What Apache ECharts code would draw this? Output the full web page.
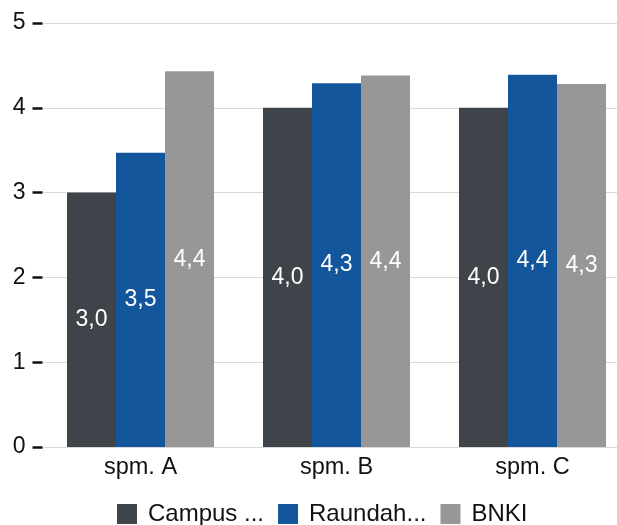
<!DOCTYPE html>
<html><head><meta charset="utf-8">
<script src="https://cdn.jsdelivr.net/npm/echarts@6/dist/echarts.min.js"></script>
<style>html,body{margin:0;padding:0;background:#fff}#c{width:617px;height:525px}</style>
</head><body><div id="c"></div>
<script>
var categories = ['spm. A', 'spm. B', 'spm. C'];
var seriesNames = ['Campus ...', 'Raundah...', 'BNKI'];
var campus = [3.0, 4.0, 4.0];
var raundah = [3.47, 4.29, 4.39];
var bnki = [4.43, 4.38, 4.28];
var colors = ['#3f444b', '#13569b', '#979797'];
var yTicks = [0, 1, 2, 3, 4, 5];

var font = 'Liberation Sans, Arial, sans-serif';
function mk(name, data, color) {
  return {
    name: name, type: 'bar', data: data, barGap: '0%', barCategoryGap: '25%',
    itemStyle: { color: color },
    label: { show: true, position: 'inside', color: '#fff', fontSize: 23, fontFamily: font,
      formatter: function (p) { return p.value.toFixed(1).replace('.', ','); } }
  };
}
var chart = echarts.init(document.getElementById('c'));
chart.setOption({
  animation: false,
  grid: { left: 42.5, top: 23, right: -13.5, bottom: 78, containLabel: false, outerBoundsMode: 'none' },
  legend: {
    bottom: -6, left: 112, icon: 'rect', itemWidth: 20, itemHeight: 20, itemGap: 14,
    textStyle: { fontSize: 24, color: '#111', fontFamily: font, padding: [0, 0, 0, 6] },
    data: seriesNames
  },
  xAxis: {
    type: 'category', data: categories,
    axisLine: { show: true, lineStyle: { color: '#d9d9d9', width: 1 } },
    axisTick: { show: false },
    axisLabel: { fontSize: 23.5, color: '#111', fontFamily: font, margin: 9 }
  },
  yAxis: {
    type: 'value', min: yTicks[0], max: yTicks[yTicks.length - 1], interval: 1,
    axisLine: { show: false },
    axisTick: { show: true, length: 10, lineStyle: { color: '#111', width: 2.5 } },
    axisLabel: { fontSize: 23, color: '#111', fontFamily: font, margin: 17 },
    splitLine: { lineStyle: { color: '#d9d9d9', width: 1 } }
  },
  series: [mk(seriesNames[0], campus, colors[0]), mk(seriesNames[1], raundah, colors[1]), mk(seriesNames[2], bnki, colors[2])]
});
</script></body></html>
